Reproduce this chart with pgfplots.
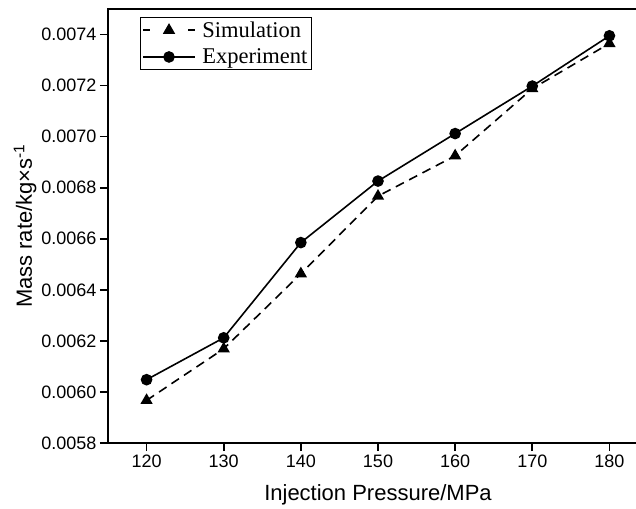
\documentclass[border=0pt]{standalone}
\usepackage{pgfplots}
\pgfplotsset{compat=1.18}
\usepackage{fontspec}
\setmainfont{Liberation Sans}
\newfontfamily\legendfont{Liberation Serif}
\begin{document}
\begin{tikzpicture}
\begin{axis}[
  scale only axis,
  width=540pt, height=434pt,
  xmin=115, xmax=185,
  ymin=0.0058, ymax=0.0075,
  xtick={120,130,...,180},
  ytick={0.0058,0.0060,...,0.0074},
  scaled y ticks=false,
  yticklabel style={/pgf/number format/.cd, fixed, fixed zerofill, precision=4},
  /pgf/number format/assume math mode=true,
  tick label style={font=\fontsize{18}{20}\selectfont},
  tick align=outside,
  major tick length=8pt,
  minor tick num=0,
  axis line style={line width=1.6pt},
  every tick/.style={line width=1.6pt, black},
  xtick pos=bottom, ytick pos=left,
  xlabel={Injection Pressure/MPa},
  ylabel={Mass rate/kg×s\textsuperscript{-1}},
  label style={font=\fontsize{22}{24}\selectfont},
  xlabel style={yshift=-10pt},
  ylabel style={yshift=-2pt},
  legend style={font=\legendfont\fontsize{22.5}{24}\selectfont, at={(0.059,0.982)}, anchor=north west, draw=black, line width=0.7pt, inner sep=2pt, row sep=5pt, nodes={inner sep=2.5pt},
    /tikz/every odd column/.append style={column sep=4pt}},
  legend cell align=left,
  legend image code/.code={\draw[mark repeat=2, mark phase=2] plot coordinates {(0pt,0pt) (26pt,0pt) (52pt,0pt)};},
]
\addplot[black, line width=1.6pt, dash pattern=on 9pt off 6pt, mark=triangle*, mark size=5.5pt, mark options={solid}, legend image post style={dash pattern=on 7pt off 38pt}]
  coordinates {(120,0.005967) (130,0.006169) (140,0.006463) (150,0.006767) (160,0.006925) (170,0.007188) (180,0.007365)};
\addlegendentry{Simulation}
\addplot[black, line width=1.6pt, mark=*, mark size=5pt]
  coordinates {(120,0.006048) (130,0.006212) (140,0.006585) (150,0.006826) (160,0.007012) (170,0.007198) (180,0.007395)};
\addlegendentry{Experiment}
\end{axis}
\pgfresetboundingbox
\path[use as bounding box] ([shift={(-108pt,-65pt)}]current axis.south west) rectangle ++(636pt,508pt);
\end{tikzpicture}
\end{document}
